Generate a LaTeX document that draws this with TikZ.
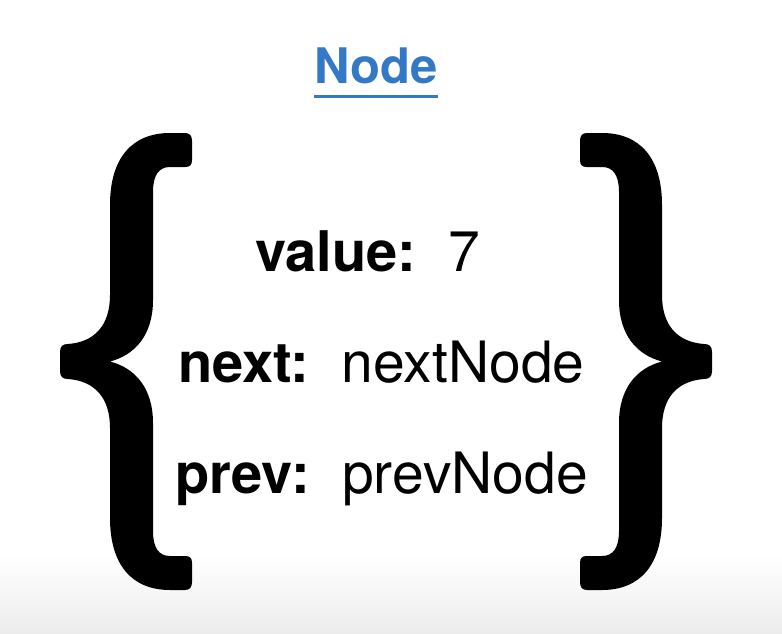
\documentclass[tikz,border=0pt]{standalone}
\usepackage{fontspec}
\setmainfont{TeX Gyre Heros}
\usepackage{tikz}
\usetikzlibrary{positioning}

\definecolor{titleblue}{RGB}{52,121,198}
\definecolor{floorgray}{RGB}{236,236,236}

% one curly brace, opening to the right, in pixel units
\newcommand{\bracepath}{
    (60,352) .. controls (60,346) and (63,344) .. (68,344)
    .. controls (95,342) and (110,325) .. (110,295)
    -- (110,205)
    .. controls (110,158) and (132,133) .. (170,133)
    -- (185,133)
    .. controls (190,133) and (192,136) .. (192,141)
    -- (192,160)
    .. controls (192,165) and (190,167) .. (185,167)
    -- (170,167)
    .. controls (159,167) and (153,175) .. (153,192)
    -- (153,300)
    .. controls (153,335) and (135,355) .. (110,361.5)
    .. controls (135,368) and (153,388) .. (153,423)
    -- (153,531)
    .. controls (153,548) and (159,556) .. (170,556)
    -- (185,556)
    .. controls (190,556) and (192,558) .. (192,563)
    -- (192,582)
    .. controls (192,587) and (190,590) .. (185,590)
    -- (170,590)
    .. controls (132,590) and (110,565) .. (110,518)
    -- (110,428)
    .. controls (110,398) and (95,381) .. (68,379)
    .. controls (63,379) and (60,377) .. (60,371)
    -- cycle
}

\tikzset{
    keytext/.style={inner sep=0pt, font=\fontsize{56}{60}\selectfont\bfseries},
    valtext/.style={inner sep=0pt, font=\fontsize{57}{60}\selectfont},
    titletext/.style={inner sep=0pt, text=titleblue, font=\fontsize{49}{54}\selectfont\bfseries},
}

\begin{document}
\begin{tikzpicture}[x=1pt, y=-1pt]
        \useasboundingbox (0,0) rectangle (782,634);
        \shade[top color=white, bottom color=floorgray] (0,555) rectangle (782,634);
        
        % title
        \node[titletext, anchor=base] (title) at (376,84) {Node};
        \draw[titleblue, line width=3pt] ([yshift=-12pt]title.base west) -- ([yshift=-12pt]title.base east);
        
        % braces
        \fill[black] \bracepath;
        \begin{scope}[shift={(772,0)}, xscale=-1]
            \fill[black] \bracepath;
        \end{scope}
        
        % fields
        \node[keytext, anchor=base west] (valuekey) at (255,271) {value:};
        \node[valtext, base right=32pt of valuekey] (valueval) {7};
        
        \node[keytext, anchor=base west] (nextkey) at (178,382) {next:};
        \node[valtext, base right=32pt of nextkey] (nextval) {nextNode};
        
        \node[keytext, anchor=base west] (prevkey) at (175,493) {prev:};
        \node[valtext, base right=32pt of prevkey] (prevval) {prevNode};
        
    \end{tikzpicture}
\end{document}
